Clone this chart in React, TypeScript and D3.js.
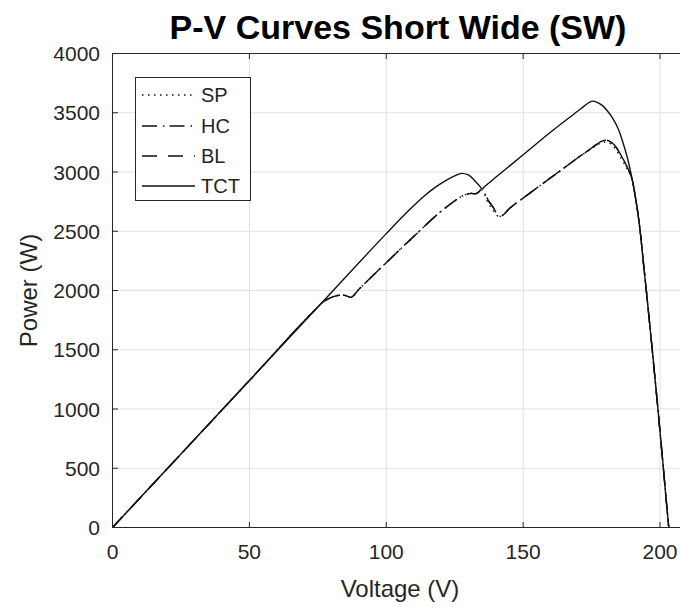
import React from "react";
import * as d3 from "d3";

// ---- data ----
const xTicks = [0, 50, 100, 150, 200];
const yTicks = [0, 500, 1000, 1500, 2000, 2500, 3000, 3500, 4000];
const seriesNames = ["SP", "HC", "BL", "TCT"];

const hcV = [0, 25, 50, 75, 77, 79, 81, 83, 84.5, 86, 87, 90, 100, 110, 119.6, 123, 126, 128.5, 131, 132.4, 133.6, 134.8, 135.8, 137, 138.2, 139.3, 140.3, 141, 142, 145, 150, 155, 160, 165, 170, 174, 177, 179, 180.5, 182, 183.5, 185, 186.5, 188, 189, 190, 191, 192, 193, 194, 195, 196, 197, 198, 199, 200, 201, 202, 203.2];
const hcP = [0, 620, 1240, 1860, 1905, 1932, 1950, 1960, 1960, 1950, 1942, 2010, 2235, 2455, 2660, 2722, 2772, 2804, 2820, 2815, 2828, 2852, 2830, 2768, 2728, 2692, 2648, 2625, 2628, 2692, 2780, 2865, 2950, 3035, 3120, 3185, 3235, 3262, 3268, 3252, 3222, 3172, 3110, 3040, 2990, 2920, 2790, 2640, 2450, 2220, 2000, 1770, 1540, 1300, 1060, 810, 560, 300, 0];

const spV = hcV;
const spP = [0, 620, 1240, 1860, 1905, 1932, 1950, 1960, 1960, 1950, 1942, 2010, 2235, 2455, 2660, 2722, 2772, 2804, 2820, 2815, 2828, 2850, 2815, 2748, 2702, 2668, 2640, 2622, 2628, 2692, 2780, 2865, 2950, 3035, 3120, 3182, 3228, 3250, 3252, 3236, 3202, 3148, 3088, 3026, 2985, 2920, 2790, 2640, 2450, 2220, 2000, 1770, 1540, 1300, 1060, 810, 560, 300, 0];

const blV = hcV;
const blP = [0, 620, 1240, 1860, 1905, 1932, 1950, 1960, 1960, 1950, 1942, 2010, 2235, 2455, 2660, 2722, 2772, 2804, 2820, 2815, 2828, 2852, 2832, 2772, 2730, 2694, 2650, 2626, 2628, 2692, 2780, 2865, 2950, 3035, 3120, 3185, 3236, 3263, 3268, 3254, 3224, 3175, 3112, 3042, 2990, 2920, 2790, 2640, 2450, 2220, 2000, 1770, 1540, 1300, 1060, 810, 560, 300, 0];

const tctV = [0, 25, 50, 75, 100, 106, 110, 114, 118, 122, 125, 127.5, 130, 132.4, 134, 135, 136, 140, 150, 160, 170, 172.5, 174.3, 175.6, 177, 179, 180.8, 182.4, 184.8, 186.6, 188, 189, 190, 191, 192, 193, 194, 195, 196, 197, 198, 199, 200, 201, 202, 203.2];
const tctP = [0, 620, 1240, 1860, 2480, 2625, 2715, 2800, 2872, 2932, 2968, 2988, 2975, 2925, 2885, 2858, 2878, 2955, 3145, 3335, 3515, 3560, 3590, 3598, 3588, 3560, 3515, 3465, 3360, 3238, 3128, 3030, 2920, 2790, 2640, 2450, 2220, 2000, 1770, 1540, 1300, 1060, 810, 560, 300, 0];

const series = [
  { name: "SP", v: spV, p: spP, dash: "1.5,4.5" },
  { name: "HC", v: hcV, p: hcP, dash: "15,6,1.5,5" },
  { name: "BL", v: blV, p: blP, dash: "15,11" },
  { name: "TCT", v: tctV, p: tctP, dash: "none" },
];

const FONT = "'Liberation Sans', Arial, Helvetica, sans-serif";
const TXT = "#262626";

export default function App() {
  const W = 680;
  const H = 607;
  const left = 112.5;
  const top = 53.5;
  const bottom = 527.5;
  const x = d3.scaleLinear().domain([0, 210]).range([left, left + 210 * 2.7375]);
  const y = d3.scaleLinear().domain([0, 4000]).range([bottom, top]);
  const right = x(210);

  const line = d3
    .line<[number, number]>()
    .x((d) => x(d[0]))
    .y((d) => y(d[1]))
    .curve(d3.curveMonotoneX);

  const legendY = [95, 126, 156, 186];

  return (
    <svg
      width={W}
      height={H}
      style={{ position: "absolute", left: 0, top: 0, background: "#fff" }}
      fontFamily={FONT}
    >
      <defs>
        <clipPath id="plotclip">
          <rect x={left} y={top} width={right - left} height={bottom - top} />
        </clipPath>
      </defs>
      <rect x={0} y={0} width={W} height={H} fill="#fff" />
      {/* grid */}
      {xTicks.map((t) => (
        <line key={"gx" + t} x1={x(t)} x2={x(t)} y1={top} y2={bottom} stroke="#e2e2e2" strokeWidth={1} />
      ))}
      {yTicks.map((t) => (
        <line key={"gy" + t} x1={left} x2={right} y1={y(t)} y2={y(t)} stroke="#e2e2e2" strokeWidth={1} />
      ))}
      {/* curves */}
      <g clipPath="url(#plotclip)">
        {series.map((s) => (
          <path
            key={s.name}
            d={line(s.v.map((v, i) => [v, s.p[i]] as [number, number])) || ""}
            fill="none"
            stroke="#111"
            strokeWidth={1.4}
            strokeDasharray={s.dash}
          />
        ))}
      </g>
      {/* axes */}
      <line x1={left} x2={left} y1={top} y2={bottom} stroke={TXT} strokeWidth={1} />
      <line x1={left} x2={right} y1={bottom} y2={bottom} stroke={TXT} strokeWidth={1} />
      <line x1={left} x2={right} y1={top} y2={top} stroke={TXT} strokeWidth={1} />
      {xTicks.map((t) => (
        <g key={"tx" + t}>
          <line x1={x(t)} x2={x(t)} y1={bottom} y2={bottom - 5.5} stroke={TXT} />
          <line x1={x(t)} x2={x(t)} y1={top} y2={top + 5.5} stroke={TXT} />
          <text x={x(t)} y={559} textAnchor="middle" fontSize={21} fill={TXT}>
            {t}
          </text>
        </g>
      ))}
      {yTicks.map((t) => (
        <g key={"ty" + t}>
          <line x1={left} x2={left + 5.5} y1={y(t)} y2={y(t)} stroke={TXT} />
          <text x={100} y={y(t) + 7.5} textAnchor="end" fontSize={21} fill={TXT}>
            {t}
          </text>
        </g>
      ))}
      {/* labels */}
      <text x={400} y={597} textAnchor="middle" fontSize={24} fill={TXT}>
        Voltage (V)
      </text>
      <text
        transform={`translate(37,${(top + bottom) / 2}) rotate(-90)`}
        textAnchor="middle"
        fontSize={24}
        fill={TXT}
      >
        Power (W)
      </text>
      <text x={398} y={39} textAnchor="middle" fontSize={34} fontWeight="bold" fill="#000">
        P-V Curves Short Wide (SW)
      </text>
      {/* legend */}
      <rect x={135.5} y={77.5} width={115} height={123} fill="#fff" stroke={TXT} strokeWidth={1} />
      {series.map((s, i) => (
        <g key={"lg" + s.name}>
          <line
            x1={142}
            x2={195}
            y1={legendY[i]}
            y2={legendY[i]}
            stroke="#111"
            strokeWidth={1.4}
            strokeDasharray={s.dash}
          />
          <text x={201} y={legendY[i] + 7} fontSize={20} fill={TXT}>
            {seriesNames[i]}
          </text>
        </g>
      ))}
    </svg>
  );
}
